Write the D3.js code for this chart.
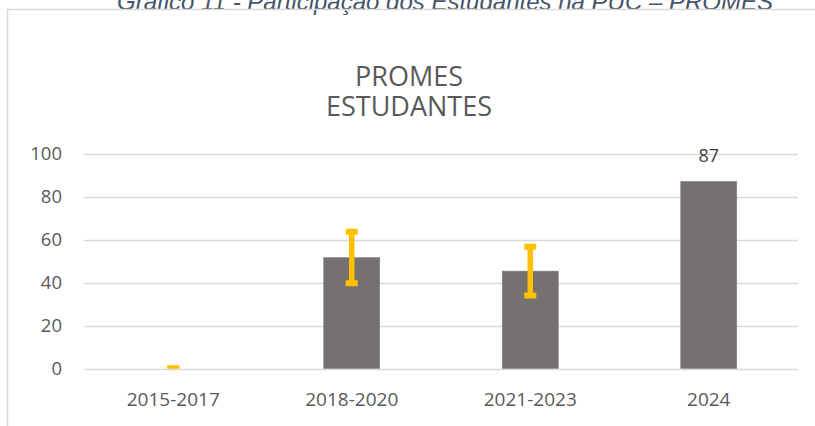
<!DOCTYPE html>
<html><head><meta charset="utf-8">
<script src="https://cdn.jsdelivr.net/npm/d3@7"></script>
<style>body{margin:0;background:#fff;}svg{display:block;}</style>
</head><body>
<script>
const categories = ["2015-2017", "2018-2020", "2021-2023", "2024"];
const values = [0, 51.6, 45.3, 87];
const errors = [0, 12, 11.3, null];
const dataLabels = [null, null, null, "87"];
const yTicks = [0, 20, 40, 60, 80, 100];
const caption = "Gráfico 11 - Participação dos Estudantes na PUC – PROMES";
const titleLines = ["PROMES", "ESTUDANTES"];

const W = 815, H = 426;
const svg = d3.select("body").append("svg").attr("width", W).attr("height", H);

// caption (cut off at top)
svg.append("text").attr("x", 445).attr("y", 10).attr("text-anchor", "middle")
  .attr("font-family", "Liberation Sans").attr("font-style", "italic")
  .attr("font-size", 24).attr("fill", "#44546a").text(caption);

// chart border
svg.append("rect").attr("x", 7.5).attr("y", 9.5).attr("width", 900).attr("height", 500)
  .attr("fill", "none").attr("stroke", "#d9d9d9").attr("stroke-width", 1.5);

// title
svg.append("g").selectAll("text").data(titleLines).join("text")
  .attr("x", 409).attr("y", (d, i) => 86 + i * 30).attr("text-anchor", "middle")
  .attr("font-family", "Open Sans").attr("font-size", 27).attr("fill", "#595959").text(d => d);

const x = d3.scaleBand().domain(categories).range([84, 798]).paddingInner(0.686).paddingOuter(0.343);
const y = d3.scaleLinear().domain([0, 100]).range([368.5, 153.5]);

svg.append("defs").append("clipPath").attr("id", "plotclip")
  .append("rect").attr("x", 84).attr("y", 140).attr("width", 714).attr("height", 368.5 - 140);

// gridlines
svg.append("g").selectAll("line").data(yTicks).join("line")
  .attr("x1", 84).attr("x2", 798).attr("y1", d => Math.round(y(d)) + 0.5).attr("y2", d => Math.round(y(d)) + 0.5)
  .attr("stroke", "#d9d9d9").attr("stroke-width", 1.5);

// y axis labels
const yAxis = d3.axisLeft(y).tickValues(yTicks).tickSize(0).tickPadding(0);
const yg = svg.append("g").attr("transform", "translate(62,0)").call(yAxis);
yg.select(".domain").remove();
yg.selectAll("text").attr("font-family", "Open Sans").attr("font-size", 18.5).attr("fill", "#595959");

// x axis labels
const xAxis = d3.axisBottom(x).tickSize(0).tickPadding(0);
const xg = svg.append("g").attr("transform", "translate(0,392)").call(xAxis);
xg.select(".domain").remove();
xg.selectAll("text").attr("font-family", "Open Sans").attr("font-size", 19).attr("fill", "#595959");

// bars
svg.append("g").selectAll("rect").data(values).join("rect")
  .attr("x", (d, i) => x(categories[i])).attr("width", x.bandwidth())
  .attr("y", d => y(d)).attr("height", d => y(0) - y(d))
  .attr("fill", "#767171").attr("stroke", "#8a8686").attr("stroke-width", 0.6);

// error bars
const eg = svg.append("g").attr("clip-path", "url(#plotclip)");
errors.forEach((e, i) => {
  if (e === null) return;
  const cx = x(categories[i]) + x.bandwidth() / 2;
  const hi = y(values[i] + e), lo = y(values[i] - e);
  eg.append("line").attr("x1", cx).attr("x2", cx).attr("y1", hi).attr("y2", lo)
    .attr("stroke", "#ffc000").attr("stroke-width", 5.5);
  [hi, lo].forEach(py => {
    eg.append("line").attr("x1", cx - 6).attr("x2", cx + 6).attr("y1", py).attr("y2", py)
      .attr("stroke", "#ffc000").attr("stroke-width", 6);
  });
});

// data labels
svg.append("g").selectAll("text").data(dataLabels).join("text")
  .attr("x", (d, i) => x(categories[i]) + x.bandwidth() / 2)
  .attr("y", (d, i) => y(values[i]) - 19)
  .attr("text-anchor", "middle").attr("font-family", "Open Sans").attr("font-size", 18)
  .attr("fill", "#404040").text(d => d || "");
</script>
</body></html>
